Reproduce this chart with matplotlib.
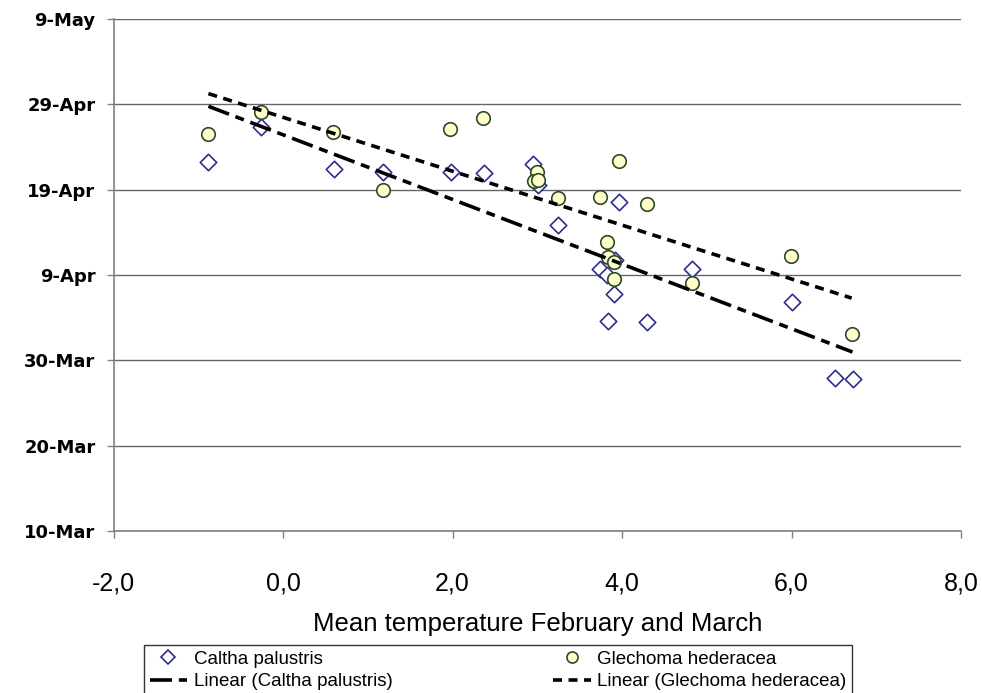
import matplotlib
matplotlib.use("Agg")
import matplotlib.pyplot as plt
from matplotlib.lines import Line2D
import numpy as np

# Data: x = mean temperature Feb+Mar (°C), y = day of year of first flowering
caltha_x = [-0.88, -0.26, 0.60, 1.18, 1.98, 2.37, 2.95, 3.01, 3.24, 3.74,
            3.82, 3.92, 3.90, 3.83, 4.30, 3.96, 4.83, 6.00, 6.51, 6.72]
caltha_y = [112.2, 116.3, 111.4, 111.1, 111.1, 110.95, 112.0, 109.6, 104.9, 99.7,
            99.0, 100.8, 96.8, 93.6, 93.5, 107.5, 99.7, 95.8, 86.9, 86.85]

glechoma_x = [-0.88, -0.26, 0.59, 1.18, 1.97, 2.36, 3.00, 2.96, 3.01, 3.24,
              3.74, 3.96, 4.30, 3.82, 3.83, 3.90, 3.91, 4.83, 5.99, 6.71]
glechoma_y = [115.5, 118.1, 115.8, 109.0, 116.1, 117.4, 111.1, 110.0, 110.1, 108.0,
              108.1, 112.4, 107.3, 102.9, 101.1, 100.5, 98.5, 98.1, 101.2, 92.1]

y_ticks = [69, 79, 89, 99, 109, 119, 129]
y_labels = ["10-Mar", "20-Mar", "30-Mar", "9-Apr", "19-Apr", "29-Apr", "9-May"]
x_ticks = [-2, 0, 2, 4, 6, 8]
x_labels = ["-2,0", "0,0", "2,0", "4,0", "6,0", "8,0"]

NARROW = ['Liberation Sans', 'DejaVu Sans']
plt.rcParams['font.family'] = ['DejaVu Sans']

fig = plt.figure(figsize=(9.82, 6.93), dpi=100)
ax = fig.add_axes([113.5/982, 1-531/693, (961-113.5)/982, (531-19)/693])

ax.set_xlim(-2, 8)
ax.set_ylim(69, 129)
ax.set_yticks(y_ticks)
ax.set_yticklabels(y_labels, fontsize=13, fontweight='bold')
ax.set_xticks(x_ticks)
ax.set_xticklabels(x_labels, fontsize=18, family=NARROW)
ax.grid(axis='y', color='#666666', linewidth=1.0)
ax.set_axisbelow(True)
for s in ['top', 'right']:
    ax.spines[s].set_visible(False)
for s in ['left', 'bottom']:
    ax.spines[s].set_color('#808080')
    ax.spines[s].set_linewidth(1.2)
ax.tick_params(axis='both', direction='out', length=5, color='#808080', width=1)
ax.tick_params(axis='x', pad=24)
ax.tick_params(axis='y', pad=8)
ax.set_xlabel("Mean temperature February and March", fontsize=18.5, family=NARROW,
              labelpad=12)

# trend lines (least squares fit of each series)
cx = np.array(caltha_x); cy = np.array(caltha_y)
gx = np.array(glechoma_x); gy = np.array(glechoma_y)
pc = np.polyfit(cx, cy, 1)
pg = np.polyfit(gx, gy, 1)
xc = np.array([cx.min(), cx.max()])
xg = np.array([gx.min(), gx.max()])

DIAMOND_EDGE = '#2E2E8C'
CIRCLE_FACE = '#FFFFCC'
CIRCLE_EDGE = '#2B4A2B'
CAL_DASH = (6.1, 1.9, 2.5, 1.9)
GLE_DASH = (2.5, 1.8)

ax.scatter(cx, cy, marker='D', s=70, facecolor='white', edgecolor=DIAMOND_EDGE,
           linewidth=1.2, zorder=3)
ax.scatter(gx, gy, marker='o', s=95, facecolor=CIRCLE_FACE, edgecolor=CIRCLE_EDGE,
           linewidth=1.2, zorder=3)
ax.plot(xc, np.polyval(pc, xc), color='black', linewidth=2.6,
        dashes=CAL_DASH, zorder=4)
ax.plot(xg, np.polyval(pg, xg), color='black', linewidth=2.6,
        dashes=GLE_DASH, zorder=4)

handles = [
    Line2D([], [], marker='D', linestyle='none', markersize=7, markerfacecolor='white',
           markeredgecolor=DIAMOND_EDGE, markeredgewidth=1.2),
    Line2D([], [], color='black', linewidth=2.6, dashes=CAL_DASH),
    Line2D([], [], marker='o', linestyle='none', markersize=8, markerfacecolor=CIRCLE_FACE,
           markeredgecolor=CIRCLE_EDGE, markeredgewidth=1.2),
    Line2D([], [], color='black', linewidth=2.6, dashes=GLE_DASH),
]
labels = ["Caltha palustris", "Linear (Caltha palustris)",
          "Glechoma hederacea", "Linear (Glechoma hederacea)"]
leg = fig.legend(handles, labels, ncol=2, loc='upper left',
                 bbox_to_anchor=(144/982, 0.0, (852-144)/982, 1-645/693),
                 mode='expand', frameon=True, fancybox=False,
                 edgecolor='black', borderpad=0.3, labelspacing=0.3,
                 handlelength=2.0, handletextpad=0.35, borderaxespad=0,
                 prop={'family': NARROW, 'size': 13.5})
leg.get_frame().set_linewidth(1.0)

fig.savefig("out.png", dpi=100)
